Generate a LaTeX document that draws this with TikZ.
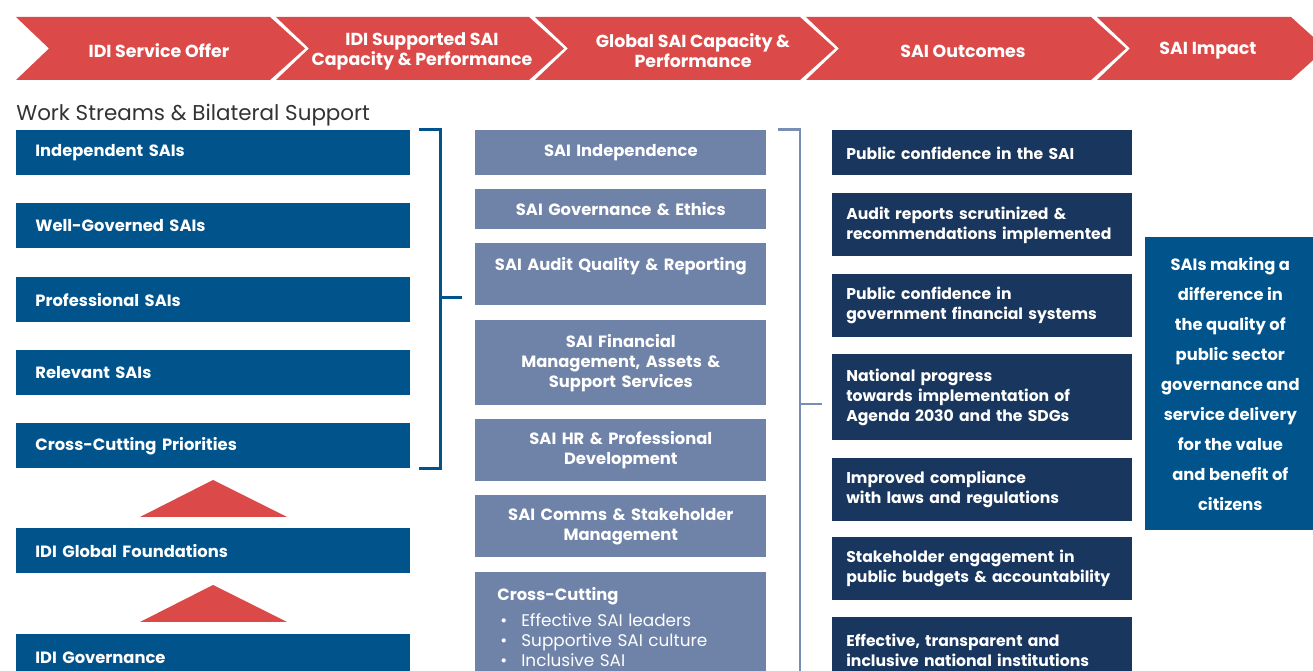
\documentclass[tikz,border=0pt]{standalone}
\usepackage{fontspec}
\setmainfont{Poppins}
\definecolor{idired}{RGB}{219,73,72}
\definecolor{wsblue}{RGB}{1,83,140}
\definecolor{capblue}{RGB}{111,130,168}
\definecolor{outnavy}{RGB}{24,54,94}
\definecolor{brackgray}{RGB}{122,141,180}
\begin{document}
\begin{tikzpicture}[x=0.02cm,y=-0.02cm,
  every node/.style={text=white,font=\bfseries\fontsize{9.3}{11.4}\selectfont},
  chevtext/.style={align=center,font=\bfseries\fontsize{9.9}{11.4}\selectfont},
  wsbox/.style={fill=wsblue,anchor=north west,minimum width=7.88cm,minimum height=0.9cm,inner xsep=0.38cm,text width=7.12cm,align=left},
  capbox/.style={fill=capblue,anchor=north west,minimum width=5.82cm,inner xsep=0.2cm,text width=5.42cm,align=center},
  outbox/.style={fill=outnavy,anchor=north west,minimum width=6cm,minimum height=1.26cm,inner xsep=0.28cm,text width=5.44cm,align=left,
    font=\bfseries\fontsize{8.9}{11.4}\selectfont,execute at begin node={\hyphenpenalty=10000}},
  brack/.style={line width=1.7pt}]

  \useasboundingbox (0,0) rectangle (1313,671);
  \clip (0,0) rectangle (1313,671);

  % value chain
  \foreach \l/\r in {16/270, 276/529, 535/800, 806/1091, 1097/1291}
    \fill[idired] (\l,17) -- (\r,17) -- (\r+35,48.5) -- (\r,80) -- (\l,80) -- (\l+33,48.5) -- cycle;
  \node[chevtext] (c1) at (159,51) {IDI Service Offer};
  \node[chevtext] (c2) at (422,51) {IDI Supported SAI\\Capacity \& Performance};
  \node[chevtext] (c3) at (693,51) {Global SAI Capacity \&\\Performance};
  \node[chevtext] (c4) at (963,51) {SAI Outcomes};
  \node[chevtext] (c5) at (1208,51) {SAI Impact};

  \node[anchor=west,inner sep=0pt,text=black!80,font=\fontsize{12.2}{14}\selectfont] (head) at (16,115) {Work Streams \& Bilateral Support};

  % work streams
  \node[wsbox] (ws1) at (16,130) {Independent SAIs};
  \node[wsbox] (ws2) at (16,203) {Well-Governed SAIs};
  \node[wsbox] (ws3) at (16,277) {Professional SAIs};
  \node[wsbox] (ws4) at (16,350) {Relevant SAIs};
  \node[wsbox] (ws5) at (16,423) {Cross-Cutting Priorities};
  \node[wsbox] (gf)  at (16,528) {IDI Global Foundations};
  \node[wsbox,minimum height=0.94cm] (gov) at (16,634) {IDI Governance};
  \foreach \y in {480,585}
    \fill[idired] (213,\y) -- (287,\y+37) -- (140,\y+37) -- cycle;

  % capacity
  \node[capbox,minimum height=0.9cm] (cap1) at (475,130) {SAI Independence};
  \node[capbox,minimum height=0.8cm] (cap2) at (475,189) {SAI Governance \& Ethics};
  \node[capbox,minimum height=1.24cm] (cap3) at (475,243) {SAI Audit Quality \& Reporting\\\mbox{}};
  \node[capbox,minimum height=1.7cm] (cap4) at (475,320) {SAI Financial\\Management, Assets \&\\Support Services};
  \node[capbox,minimum height=1.24cm] (cap5) at (475,419) {SAI HR \& Professional\\Development};
  \node[capbox,minimum height=1.24cm] (cap6) at (475,495) {SAI Comms \& Stakeholder\\Management};
  \node[capbox,minimum height=2.2cm,inner xsep=0.44cm,text width=4.94cm,align=left] (cap7) at (475,572)
    {Cross-Cutting\\[3.4pt]\mdseries\fontsize{9.6}{11.4}\selectfont
     \hspace*{0.06cm}\makebox[0.42cm][l]{\textbullet}Effective SAI leaders\\
     \hspace*{0.06cm}\makebox[0.42cm][l]{\textbullet}Supportive SAI culture\\
     \hspace*{0.06cm}\makebox[0.42cm][l]{\textbullet}Inclusive SAI};

  % outcomes
  \node[outbox,minimum height=0.9cm] (out1) at (832,130) {Public confidence in the SAI};
  \node[outbox] (out2) at (832,193) {Audit reports scrutinized \&\\recommendations implemented};
  \node[outbox] (out3) at (832,274) {Public confidence in\\government financial systems};
  \node[outbox,minimum height=1.72cm] (out4) at (832,354) {National progress\\towards implementation of\\Agenda 2030 and the SDGs};
  \node[outbox] (out5) at (832,458) {Improved compliance\\with laws and regulations};
  \node[outbox] (out6) at (832,537) {Stakeholder engagement in\\public budgets \& accountability};
  \node[outbox,minimum height=1.3cm] (out7) at (832,617) {Effective, transparent and\\inclusive national institutions};

  % impact
  \node[fill=wsblue,anchor=north west,minimum width=3.4cm,minimum height=5.86cm,align=center,
        font=\bfseries\fontsize{9.3}{17.1}\selectfont] (impact) at (1145,237)
    {SAIs making a\\difference in\\the quality of\\public sector\\governance and\\service delivery\\for the value\\and benefit of\\citizens};

  % brackets
  \draw[brack,wsblue] ([xshift=0.16cm]ws1.north east) -| ([xshift=0.6cm]ws5.south east) -- ([xshift=0.16cm]ws5.south east);
  \coordinate (ltick) at (440,298);
  \draw[brack,wsblue] (ltick) -- ++(22,0);
  \coordinate (rtop) at (778,130);
  \coordinate (rbot) at (800,690);
  \draw[brack,brackgray] (rtop) -| (rbot);
  \coordinate (rtick) at (800,404);
  \draw[brack,brackgray] (rtick) -- ++(22,0);
\end{tikzpicture}
\end{document}
